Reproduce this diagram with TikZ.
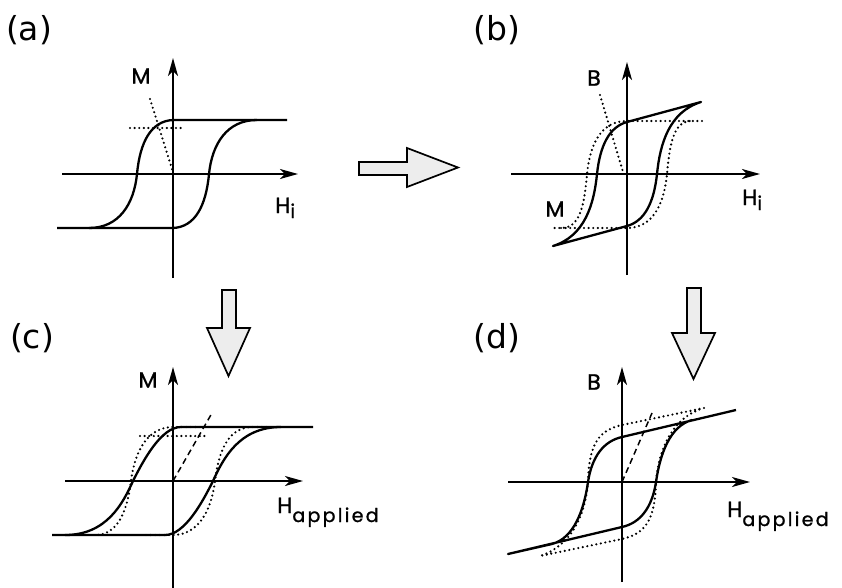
\documentclass[tikz,border=0pt]{standalone}
\usepackage{fontspec}
\usepackage{tikz}
\usetikzlibrary{arrows.meta}
\newfontfamily\panelfont{DejaVu Sans}
\newfontfamily\axfont[FakeBold=1.2]{Poppins}
\newfontfamily\subfont[LetterSpace=12,FakeBold=1.2]{Poppins}
\newcommand{\Hsub}[2]{H\raisebox{#1}{\subfont\fontsize{19}{21}\selectfont #2}}

\begin{document}
\begin{tikzpicture}[
  x=1pt, y=1pt,
  axis/.style={line width=1.5pt, -{Stealth[length=18pt,width=10pt,inset=5pt]}},
  curve/.style={line width=2.3pt, line join=round},
  dotline/.style={line width=2.4pt, line cap=round, dash pattern=on 0pt off 4.6pt},
  dashline/.style={line width=1.5pt, dash pattern=on 6pt off 4pt},
  fatarrow/.style={draw, line width=1.7pt, fill=gray!14, line join=miter},
  panel/.style={font=\panelfont\fontsize{33}{36}\selectfont, inner sep=0},
  axlabel/.style={font=\axfont\fontsize{22}{24}\selectfont, inner sep=0}
]
\useasboundingbox (0,0) rectangle (842,-588);

\node[panel] (lab-a) at (29,-30) {(a)};
\node[panel] (lab-b) at (497,-30) {(b)};
\node[panel] (lab-c) at (32,-338) {(c)};
\node[panel] (lab-d) at (497,-338) {(d)};

\draw[fatarrow] (359,-162) -- (407,-162) -- (407,-148) -- (458,-167.5)
  -- (407,-187) -- (407,-175) -- (359,-175) -- cycle;
\draw[fatarrow] (222,-290) -- (236,-290) -- (236,-328) -- (250,-328)
  -- (228.5,-376) -- (207,-328) -- (222,-328) -- cycle;
\draw[fatarrow] (687,-288) -- (701,-288) -- (701,-333) -- (715,-333)
  -- (693.5,-379) -- (672,-333) -- (687,-333) -- cycle;

\begin{scope}[shift={(173,-174)}]
  \coordinate (a-w) at (-111,0); \coordinate (a-e) at (125,0);
  \coordinate (a-s) at (0,-104); \coordinate (a-n) at (0,116);
  \draw[axis] (a-w) -- (a-e);
  \draw[axis] (a-s) -- (a-n);
  \draw[curve] (114,54) -- (0,54) .. controls (-22,53) and (-33,32) .. (-36,0)
    .. controls (-39,-30) and (-54,-54) .. (-84,-54);
  \draw[curve] (-116,-54) -- (0,-54) .. controls (22,-53) and (33,-32) .. (36,0)
    .. controls (39,30) and (54,54) .. (84,54);
  \draw[dotline] (-43,46) -- (10,46);
  \draw[dotline] (-23,75) -- (0,2);
  \node[axlabel] (a-M) at (-32,98) {M};
  \node[axlabel, anchor=base west] (a-H) at (102,-39) {\Hsub{-5pt}{i}};
\end{scope}

\begin{scope}[shift={(627,-174)}]
  \coordinate (b-w) at (-116,0); \coordinate (b-e) at (133,0);
  \coordinate (b-s) at (0,-101); \coordinate (b-n) at (0,112);
  \draw[axis] (b-w) -- (b-e);
  \draw[axis] (b-s) -- (b-n);
  \draw[curve] (74,72) -- (0,52) .. controls (-18,47) and (-27,28) .. (-30,0)
    .. controls (-33,-30) and (-42,-62) .. (-74,-72) -- (0,-52)
    .. controls (18,-47) and (27,-28) .. (30,0)
    .. controls (33,30) and (42,62) .. (74,72) -- cycle;
  \draw[dotline] (75,53) -- (0,53) .. controls (-26,53) and (-37,30) .. (-40,0)
    .. controls (-43,-35) and (-48,-54) .. (-66,-54) -- (-75,-54);
  \draw[dotline] (-66,-54) -- (0,-54) .. controls (26,-54) and (37,-30) .. (40,0)
    .. controls (43,35) and (48,54) .. (66,53);
  \draw[dotline] (-27,79) -- (-4,2);
  \node[axlabel] (b-B) at (-33,96) {B};
  \node[axlabel] (b-M) at (-72,-35) {M};
  \node[axlabel, anchor=base west] (b-H) at (115,-31) {\Hsub{-5pt}{i}};
\end{scope}

\begin{scope}[shift={(173,-481)}]
  \coordinate (c-w) at (-108,0); \coordinate (c-e) at (130,0);
  \coordinate (c-s) at (0,-107); \coordinate (c-n) at (0,114);
  \draw[axis] (c-w) -- (c-e);
  \draw[axis] (c-s) -- (c-n);
  \draw[curve] (140,54) -- (8,54) .. controls (-12,54) and (-30,20) .. (-40,0)
    .. controls (-50,-22) and (-66,-54) .. (-108,-54);
  \draw[curve] (-121,-54) -- (-8,-54) .. controls (12,-54) and (30,-20) .. (40,0)
    .. controls (50,22) and (66,54) .. (108,54);
  \draw[dotline] (27,54) -- (0,54) .. controls (-24,54) and (-38,32) .. (-42,0)
    .. controls (-46,-32) and (-56,-54) .. (-78,-54);
  \draw[dotline] (-27,-54) -- (0,-54) .. controls (24,-54) and (38,-32) .. (42,0)
    .. controls (46,32) and (56,54) .. (80,54) -- (94,54);
  \draw[dotline] (-33,45) -- (35,45);
  \draw[dashline] (0,0) -- (39,68);
  \node[axlabel] (c-M) at (-25,101) {M};
  \node[axlabel, anchor=base west] (c-H) at (104,-32) {\Hsub{-9pt}{applied}};
\end{scope}

\begin{scope}[shift={(622,-482)}]
  \coordinate (d-w) at (-114,0); \coordinate (d-e) at (128,0);
  \coordinate (d-s) at (0,-100); \coordinate (d-n) at (0,115);
  \draw[axis] (d-w) -- (d-e);
  \draw[axis] (d-s) -- (d-n);
  \draw[curve] (114,72) -- (0,45) .. controls (-18,41) and (-30,26) .. (-34,0)
    .. controls (-38,-28) and (-48,-56) .. (-70,-62) -- (-114,-72) -- (0,-45)
    .. controls (18,-41) and (30,-26) .. (34,0)
    .. controls (38,28) and (48,56) .. (70,62);
  \draw[dotline] (82,74) -- (0,57) .. controls (-22,52) and (-33,40) .. (-34,0)
    .. controls (-37,-36) and (-52,-64) .. (-82,-74) -- (0,-57)
    .. controls (22,-52) and (33,-40) .. (34,0)
    .. controls (37,36) and (52,64) .. (80,73.5);
  \draw[dashline] (0,0) -- (30,69);
  \node[axlabel] (d-B) at (-28,100) {B};
  \node[axlabel, anchor=base west] (d-H) at (105,-35) {\Hsub{-9pt}{applied}};
\end{scope}
\end{tikzpicture}
\end{document}
